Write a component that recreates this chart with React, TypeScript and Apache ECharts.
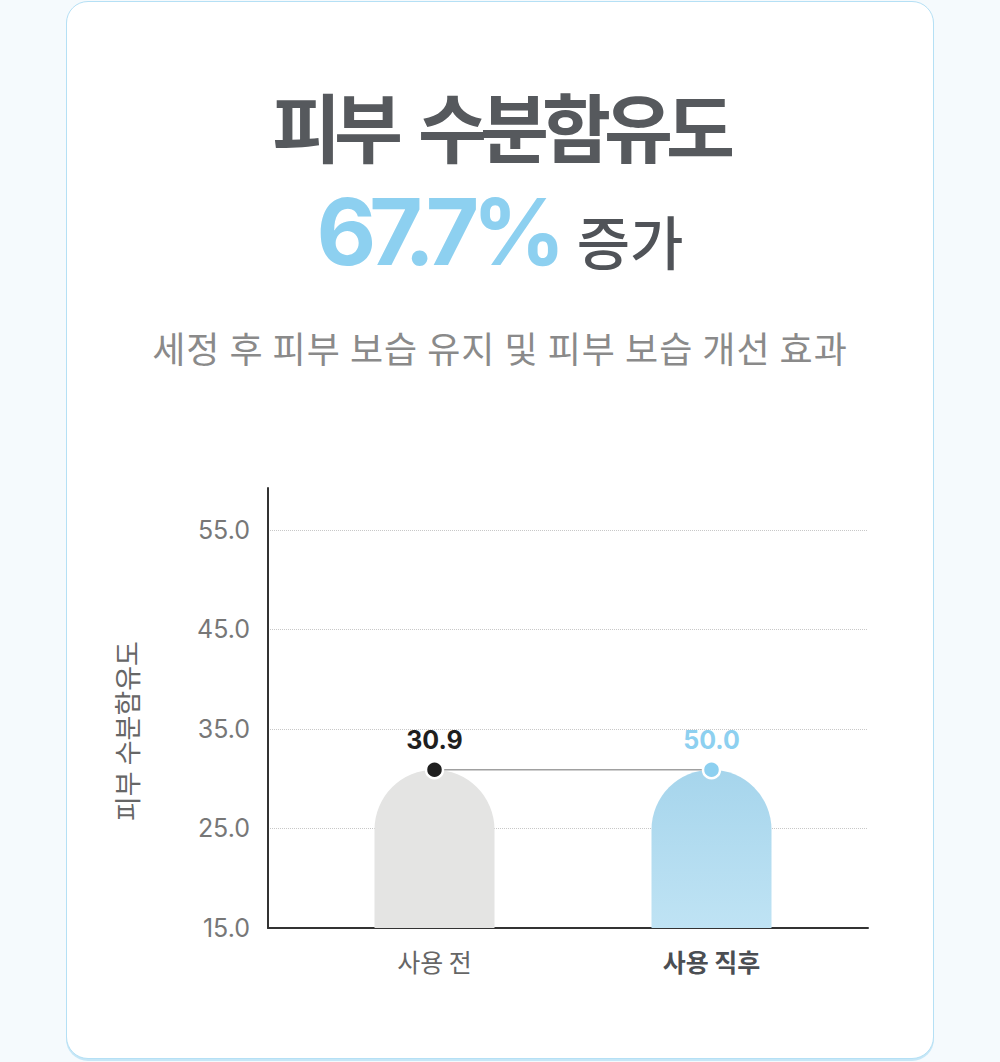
import { useEffect, useRef } from 'react';
import * as echarts from 'echarts';

const categories = ['사용 전', '사용 직후'];
// bar heights as drawn in the picture (both bars end at the same level)
const barHeights = [30.9, 30.9];
// values printed above the bars
const valueLabels = [30.9, 50.0];
const axisMin = 15;
const axisMax = 59.2;
const axisInterval = 10;
const axisName = '피부 수분함유도';

const FONT = '"Noto Sans CJK KR", "Noto Sans", sans-serif';
const NUM_FONT = 'Inter, "Noto Sans CJK KR", sans-serif';

function App() {
  const chartRef = useRef<HTMLDivElement>(null);

  useEffect(() => {
    if (!chartRef.current) return;
    const chart = echarts.init(chartRef.current, null, { renderer: 'svg' });

    const blueBar = new echarts.graphic.LinearGradient(0, 0, 0, 1, [
      { offset: 0, color: '#a6d5ec' },
      { offset: 1, color: '#bfe3f4' },
    ]);

    chart.setOption({
      animation: false,
      grid: [
        { left: 296, right: 150, top: 488, bottom: 134 },
        { left: 268, right: 132, top: 488, bottom: 134 },
      ],
      xAxis: [
        {
          type: 'category',
          gridIndex: 0,
          data: categories,
          axisLine: { show: false },
          axisTick: { show: false },
          axisLabel: {
            margin: 20,
            formatter: (v: string, i: number) => (i === 1 ? `{b|${v}}` : `{a|${v}}`),
            rich: {
              a: { fontSize: 25, color: '#666', fontFamily: FONT },
              b: { fontSize: 25, color: '#4b4e53', fontWeight: 'bold', fontFamily: FONT },
            },
          },
        },
        {
          type: 'value',
          gridIndex: 1,
          min: 0,
          max: 1,
          axisLine: { show: true, lineStyle: { color: '#333', width: 2 } },
          axisTick: { show: false },
          axisLabel: { show: false },
          splitLine: { show: false },
        },
      ],
      yAxis: [
        { type: 'value', gridIndex: 0, min: axisMin, max: axisMax, interval: axisInterval, show: false },
        {
          type: 'value',
          gridIndex: 1,
          min: axisMin,
          max: axisMax,
          interval: axisInterval,
          name: axisName,
          nameLocation: 'middle',
          nameRotate: 90,
          nameGap: 128,
          nameTextStyle: { fontSize: 27, color: '#666', fontFamily: FONT, padding: [0, 46, 0, 0] },
          axisLine: { show: true, lineStyle: { color: '#333', width: 2 } },
          axisTick: { show: false },
          axisLabel: {
            margin: 18,
            fontSize: 25,
            color: '#777',
            fontFamily: NUM_FONT,
            showMaxLabel: false,
            formatter: (v: number) => v.toFixed(1),
          },
          splitLine: {
            show: true,
            showMinLine: false,
            showMaxLine: false,
            lineStyle: { type: 'dotted', color: '#c8c8c8', width: 1 },
          },
        },
      ],
      series: [
        {
          type: 'bar',
          xAxisIndex: 0,
          yAxisIndex: 0,
          barWidth: 120,
          data: barHeights.map((v, i) => ({
            value: v,
            itemStyle: { color: i === 0 ? '#e4e4e3' : blueBar, borderRadius: [60, 60, 0, 0] },
          })),
        },
        {
          type: 'line',
          xAxisIndex: 0,
          yAxisIndex: 0,
          z: 5,
          symbol: 'circle',
          symbolSize: 17,
          lineStyle: { color: '#a0a0a0', width: 1.5 },
          data: barHeights.map((v, i) => ({
            value: v,
            itemStyle: {
              color: i === 0 ? '#1f1f1f' : '#8dd0f0',
              borderColor: '#fff',
              borderWidth: 2.5,
            },
            label: { color: i === 0 ? '#1f1f1f' : '#8dd0f0' },
          })),
          label: {
            show: true,
            position: 'top',
            distance: 7,
            fontSize: 25,
            fontWeight: 'bold',
            fontFamily: NUM_FONT,
            formatter: (p: { dataIndex: number }) => valueLabels[p.dataIndex].toFixed(1),
          },
        },
      ],
    });

    return () => chart.dispose();
  }, []);

  return (
    <div
      style={{
        position: 'absolute',
        left: 0,
        top: 0,
        width: 1000,
        height: 1062,
        overflow: 'hidden',
        background: '#f5fafd',
        fontFamily: FONT,
      }}
    >
      <div
        style={{
          position: 'absolute',
          left: 66,
          top: 1,
          width: 868,
          height: 1058,
          boxSizing: 'border-box',
          border: '1.5px solid #b5e0f5',
          borderRadius: 22,
          background: '#fff',
          boxShadow: '0 2px 0 #c6e7f7',
        }}
      />
      <div
        style={{
          position: 'absolute',
          left: 0,
          width: 1000,
          top: 87,
          textAlign: 'center',
          fontSize: 75,
          lineHeight: 1,
          fontWeight: 700,
          letterSpacing: -7,
          wordSpacing: 12,
          color: '#56595d',
        }}
      >
        피부 수분함유도
      </div>
      <div
        style={{
          position: 'absolute',
          left: 0,
          width: 1000,
          top: 186,
          textAlign: 'center',
          lineHeight: 1,
          whiteSpace: 'nowrap',
        }}
      >
        <span style={{ fontFamily: NUM_FONT, fontSize: 92, fontWeight: 700, letterSpacing: -7, color: '#8dd0f0' }}>
          67.7%
        </span>
        <span style={{ fontSize: 58, fontWeight: 500, color: '#505358', marginLeft: 18 }}>증가</span>
      </div>
      <div
        style={{
          position: 'absolute',
          left: 0,
          width: 1000,
          top: 329,
          textAlign: 'center',
          fontSize: 36,
          lineHeight: 1,
          letterSpacing: 1,
          color: '#8a8a8a',
        }}
      >
        세정 후 피부 보습 유지 및 피부 보습 개선 효과
      </div>
      <div ref={chartRef} style={{ position: 'absolute', left: 0, top: 0, width: 1000, height: 1062 }} />
    </div>
  );
}

export default App;
